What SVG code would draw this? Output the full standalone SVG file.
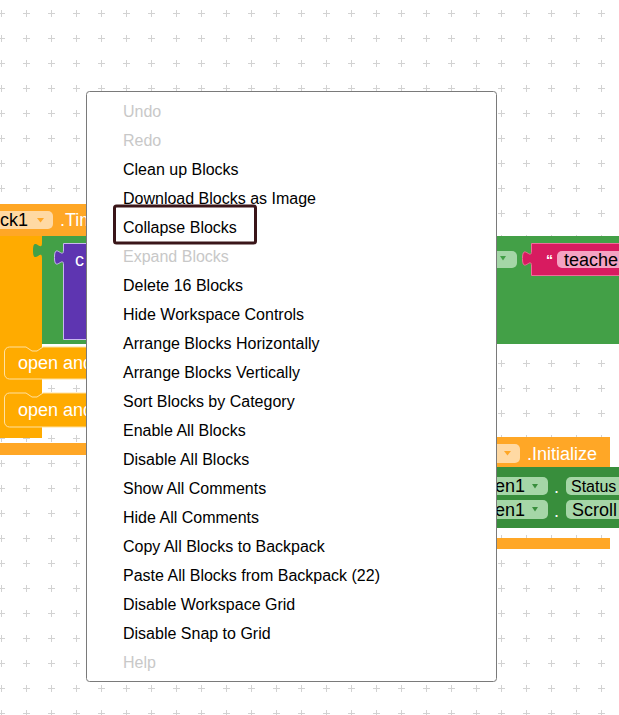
<svg xmlns="http://www.w3.org/2000/svg" width="619" height="715" viewBox="0 0 619 715">
<defs>
<pattern id="grid" x="-11" y="1" width="25" height="25" patternUnits="userSpaceOnUse">
<path d="M9,12.5 H16 M12.5,9 V16" stroke="#d2d2d2" stroke-width="1" fill="none"/>
</pattern>
<style>
.bt{font-family:"Liberation Sans",Arial,sans-serif;font-size:18px;fill:#fff}
.bd{font-family:"Liberation Sans",Arial,sans-serif;font-size:18px;fill:#000}
.mi{font-family:"Liberation Sans",Arial,sans-serif;font-size:16px;fill:#000}
.mi.off{fill:#c8c8c8}
.orH{fill:#FFA726}
.orB{fill:#FFAB00}
</style>
</defs>
<rect width="619" height="715" fill="#fff"/>
<rect width="619" height="715" fill="url(#grid)"/>

<g id="timer-block">
<rect x="0" y="204" width="42" height="234" class="orB"/>
<rect x="0" y="204" width="100" height="32" class="orH"/>
<rect x="-10" y="211" width="63" height="18" rx="5" fill="#FFD9A3"/>
<text x="0" y="226" class="bd">ck1</text>
<path d="M37,218 h7 l-3.5,4.5 z" fill="#FFA726"/>
<text x="60" y="226" class="bt">.Tim</text>
</g>

<g id="green-block">
<path d="M42,236 H619 V344 H42 V258 c0,-10 -9,8 -9,-7.5 s9,2.5 9,-7.5 Z" fill="#43A047"/>
</g>

<g id="purple-block">
<path d="M63.5,243.5 H100 V339.5 H63.5 V265 c0,-10 -9,8 -9,-7.5 s9,2.5 9,-7.5 Z" fill="#5E35B1" stroke="#c9b8ef" stroke-width="1"/>
<text x="75" y="266" class="bt">c</text>
</g>

<g id="open-block-1">
<path d="M4.5,352 a5,5 0 0 1 5,-5 H26 l6,4 h5 l6,-4 H100 V379 H9.5 a5,5 0 0 1 -5,-5 Z" class="orB" stroke="#FFE1A0" stroke-width="1"/>
<text x="18" y="369" class="bt">open and</text>
</g>

<g id="open-block-2">
<path d="M4.5,398 a5,5 0 0 1 5,-5 H26 l6,4 h5 l6,-4 H100 V427 H9.5 a5,5 0 0 1 -5,-5 Z" class="orB" stroke="#FFE1A0" stroke-width="1"/>
<text x="18" y="416" class="bt">open and</text>
</g>

<g id="timer-bottom">
<rect x="0" y="443" width="100" height="12" class="orH"/>
</g>

<g id="green-dropdown">
<rect x="470" y="251" width="47" height="17" rx="5" fill="#A5D6A7"/>
<path d="M500,256 h6 l-3,4.5 z" fill="#43A047"/>
</g>

<g id="text-block">
<path d="M531.5,243.5 H625 V275.5 H531.5 V266 c0,-10 -9,8 -9,-7.5 s9,2.5 9,-7.5 Z" fill="#D81B60" stroke="#F06A9A" stroke-width="1"/>
<text x="546" y="265" class="bt" style="font-size:14px;font-weight:bold">“</text>
<rect x="557" y="251" width="70" height="17" rx="5" fill="#F4A3C3"/>
<text x="564" y="266" class="bd">teache</text>
</g>

<g id="initialize-block">
<rect x="490" y="437" width="120" height="30" class="orH"/>
<rect x="470" y="444" width="50" height="19" rx="5" fill="#FFD9A3"/>
<path d="M504,451 h7 l-3.5,4.5 z" fill="#FFA726"/>
<text x="527" y="460" class="bt">.Initialize</text>
<rect x="490" y="538" width="120" height="11" class="orH"/>
</g>

<g id="setter-block-1">
<rect x="490" y="467" width="135" height="31" fill="#388E3C"/>
<rect x="470" y="477" width="78" height="18" rx="5" fill="#A5D6A7"/>
<text x="495" y="492" class="bd">en1</text>
<path d="M532,484 h6 l-3,4.5 z" fill="#388E3C"/>
<text x="554" y="493" class="bt">.</text>
<rect x="566" y="477" width="60" height="18" rx="5" fill="#A5D6A7"/>
<text x="571" y="492" class="bd" style="font-size:16px">Status</text>
</g>

<g id="setter-block-2">
<rect x="490" y="498" width="135" height="30" fill="#388E3C"/>
<rect x="470" y="500" width="78" height="19" rx="5" fill="#A5D6A7"/>
<text x="495" y="516" class="bd">en1</text>
<path d="M532,507 h6 l-3,4.5 z" fill="#388E3C"/>
<text x="554" y="517" class="bt">.</text>
<rect x="566" y="500" width="60" height="19" rx="5" fill="#A5D6A7"/>
<text x="572" y="516" class="bd">Scroll</text>
</g>

<g id="context-menu">
<rect x="86.5" y="91.5" width="410" height="590" rx="3" fill="#fff" stroke="#7a7a7a" stroke-width="1"/>
<text x="123" y="117" class="mi off">Undo</text>
<text x="123" y="146" class="mi off">Redo</text>
<text x="123" y="175" class="mi">Clean up Blocks</text>
<text x="123" y="204" class="mi">Download Blocks as Image</text>
<text x="123" y="233" class="mi">Collapse Blocks</text>
<text x="123" y="262" class="mi off">Expand Blocks</text>
<text x="123" y="291" class="mi">Delete 16 Blocks</text>
<text x="123" y="320" class="mi">Hide Workspace Controls</text>
<text x="123" y="349" class="mi">Arrange Blocks Horizontally</text>
<text x="123" y="378" class="mi">Arrange Blocks Vertically</text>
<text x="123" y="407" class="mi">Sort Blocks by Category</text>
<text x="123" y="436" class="mi">Enable All Blocks</text>
<text x="123" y="465" class="mi">Disable All Blocks</text>
<text x="123" y="494" class="mi">Show All Comments</text>
<text x="123" y="523" class="mi">Hide All Comments</text>
<text x="123" y="552" class="mi">Copy All Blocks to Backpack</text>
<text x="123" y="581" class="mi">Paste All Blocks from Backpack (22)</text>
<text x="123" y="610" class="mi">Disable Workspace Grid</text>
<text x="123" y="639" class="mi">Disable Snap to Grid</text>
<text x="123" y="668" class="mi off">Help</text>
</g>

<g id="highlight">
<rect x="114.5" y="206" width="141" height="37" rx="2" fill="none" stroke="#3a1619" stroke-width="3"/>
</g>
</svg>
